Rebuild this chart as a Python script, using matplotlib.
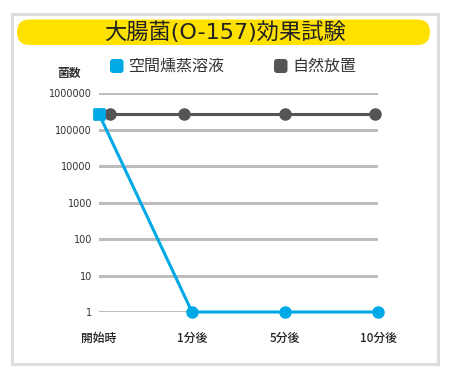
import numpy as np
import matplotlib
matplotlib.use("Agg")
import matplotlib.pyplot as plt
from matplotlib.patches import FancyBboxPatch, Rectangle
from matplotlib.markers import MarkerStyle

plt.rcParams['font.family'] = ['Noto Sans CJK JP', 'DejaVu Sans']

# data
categories = ['開始時', '1分後', '5分後', '10分後']
series_names = ['空間燻蒸溶液', '自然放置']
fumigation_x = [0, 1, 2, 3]
fumigation_counts = [270000, 1, 1, 1]
natural_x = [0.12, 0.91, 2.0, 2.97]
natural_counts = [270000, 270000, 270000, 270000]
y_ticks = [1, 10, 100, 1000, 10000, 100000, 1000000]

BLUE = '#00a9e6'
DARK = '#555555'
GRID = '#bdbdbd'
YELLOW = '#ffe100'
W, H = 450, 380

fig = plt.figure(figsize=(W / 100, H / 100), dpi=100)

# overlay in pixel coordinates for frame, title bar and legend
bg = fig.add_axes([0, 0, 1, 1])
bg.set_xlim(0, W)
bg.set_ylim(H, 0)
bg.axis('off')
bg.add_patch(Rectangle((11.5, 14), 426, 350, facecolor='white',
                       edgecolor='#dddddd', linewidth=2.2))
bg.add_patch(FancyBboxPatch((17, 19.5), 413, 25.5,
                            boxstyle='round,pad=0,rounding_size=12.7',
                            facecolor=YELLOW, edgecolor='none'))
bg.text(225, 32.5, '大腸菌(O-157)効果試験', ha='center', va='center',
        fontsize=16, color='#222222',
        family=['DejaVu Sans', 'Noto Sans CJK JP'])

# legend
for (x0, name, color) in [(110, series_names[0], BLUE), (274, series_names[1], DARK)]:
    bg.add_patch(FancyBboxPatch((x0, 59), 13.5, 14,
                                boxstyle='round,pad=0,rounding_size=3',
                                facecolor=color, edgecolor='none'))
    bg.text(x0 + 18, 66, name, ha='left', va='center', fontsize=11.5,
            color='#333333')
bg.text(69, 73, '菌数', ha='center', va='center', fontsize=8.5,
        fontweight='bold', color='#333333')

# chart area
ax = fig.add_axes([99 / W, 1 - 312 / H, 279 / W, (312 - 93.3) / H])
ax.set_facecolor('none')
ax.set_yscale('log')
ax.set_xlim(0, 3)
ax.set_ylim(1, 1000000)
ax.set_yticks(y_ticks)
ax.set_yticklabels([str(v) for v in y_ticks], fontsize=7,
                   family='DejaVu Sans', color='#333333')
ax.minorticks_off()
ax.set_xticks(range(len(categories)))
ax.set_xticklabels(categories, fontsize=8.5, fontweight='medium',
                   color='#222222')
ax.tick_params(axis='y', length=0, pad=5)
ax.tick_params(axis='x', length=0, pad=14)
for s in ax.spines.values():
    s.set_visible(False)
ax.grid(axis='y', color=GRID, linewidth=2.2)
ax.set_axisbelow(True)

ax.plot(natural_x, natural_counts, color=DARK, linewidth=2.2,
        marker='o', markersize=8, clip_on=False, zorder=3)
ax.plot(fumigation_x, fumigation_counts, color=BLUE, linewidth=2.2,
        clip_on=False, zorder=4)
ax.plot(fumigation_x[1:], fumigation_counts[1:], linestyle='none',
        marker='o', markersize=8, color=BLUE, clip_on=False, zorder=5)
ax.plot(fumigation_x[:1], fumigation_counts[:1], linestyle='none',
        marker=MarkerStyle('s', joinstyle='round'), markersize=6.5,
        markeredgewidth=2, color=BLUE, clip_on=False, zorder=5)

fig.savefig('out.png', dpi=100)
